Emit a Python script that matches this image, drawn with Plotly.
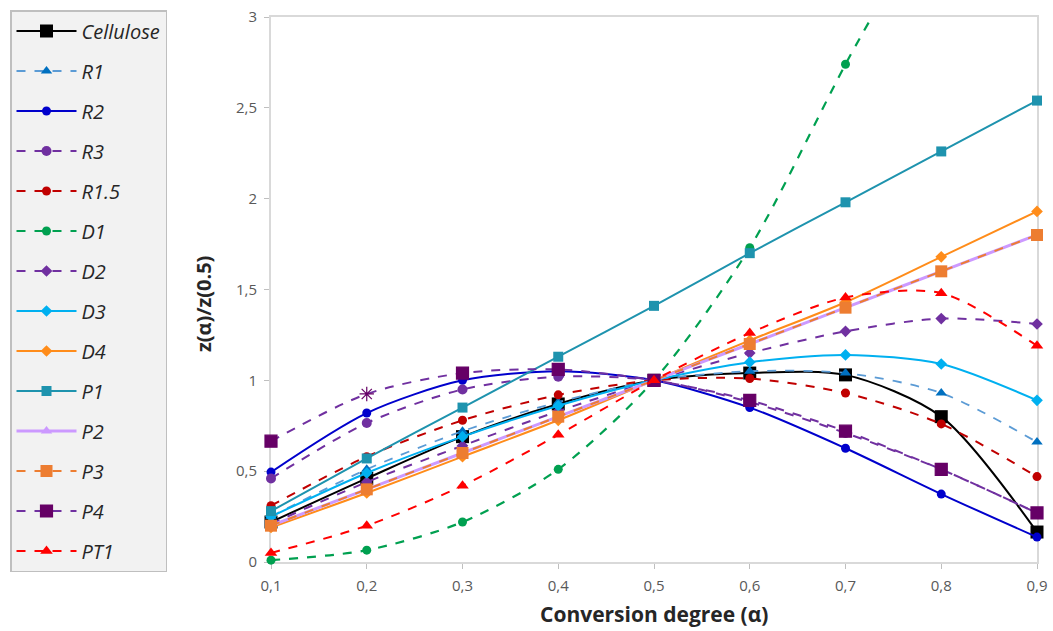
import plotly.graph_objects as go

alpha = [0.1, 0.2, 0.3, 0.4, 0.5, 0.6, 0.7, 0.8, 0.9]

cellulose = [0.22, 0.46, 0.69, 0.87, 1.00, 1.04, 1.03, 0.80, 0.165]
r1 = [0.25, 0.51, 0.72, 0.88, 1.00, 1.05, 1.04, 0.93, 0.66]
r2 = [0.495, 0.82, 1.00, 1.05, 1.00, 0.85, 0.626, 0.374, 0.137]
r3 = [0.46, 0.765, 0.95, 1.02, 1.00, 0.88, 0.71, 0.51, 0.27]
r15 = [0.31, 0.58, 0.78, 0.92, 1.00, 1.01, 0.93, 0.76, 0.47]
d1 = [0.01, 0.065, 0.22, 0.51, 1.00, 1.73, 2.74, 3.7, 5.0]
d2 = [0.21, 0.44, 0.64, 0.83, 1.00, 1.15, 1.27, 1.34, 1.31]
d3 = [0.25, 0.49, 0.69, 0.86, 1.00, 1.10, 1.14, 1.09, 0.89]
d4 = [0.19, 0.38, 0.58, 0.78, 1.00, 1.22, 1.43, 1.68, 1.93]
p1 = [0.28, 0.57, 0.85, 1.13, 1.41, 1.70, 1.98, 2.26, 2.54]
p2 = [0.20, 0.40, 0.60, 0.80, 1.00, 1.20, 1.40, 1.60, 1.80]
p3 = [0.20, 0.40, 0.60, 0.80, 1.00, 1.20, 1.40, 1.60, 1.80]
p4 = [0.665, 0.925, 1.04, 1.06, 1.00, 0.89, 0.72, 0.51, 0.27]
pt1 = [0.05, 0.20, 0.42, 0.70, 1.00, 1.26, 1.456, 1.48, 1.19]

series = [
    ("Cellulose", cellulose, "black", "black", "solid", "square", 13, 2),
    ("R1", r1, "#5B9BD5", "#0070C0", "dash", "triangle-up", 10, 1.8),
    ("R2", r2, "#0000CC", "#0000CC", "solid", "circle", 9, 2),
    ("R3", r3, "#7030A0", "#7030A0", "dash", "circle", 10, 2),
    ("R1.5", r15, "#C00000", "#C00000", "dash", "circle", 9, 2),
    ("D1", d1, "#00A050", "#00A050", "dash", "circle", 9, 2.2),
    ("D2", d2, "#7030A0", "#7030A0", "dash", "diamond", 9, 2),
    ("D3", d3, "#00B0F0", "#00B0F0", "solid", "diamond", 9, 2),
    ("D4", d4, "#FF8C1A", "#FF8C1A", "solid", "diamond", 9, 2),
    ("P1", p1, "#1E93AE", "#1E93AE", "solid", "square", 10, 2),
    ("P2", p2, "#CC99FF", "#CC99FF", "solid", "triangle-up", 10, 3),
    ("P3", p3, "#ED7D31", "#ED7D31", "dash", "square", 12, 2),
    ("P4", p4, "#7030A0", "#660066", "dash", "square", 12, 2),
    ("PT1", pt1, "#FF0000", "#FF0000", "dash", "triangle-up", 11, 2),
]

fig = go.Figure()
for i, (name, vals, lc, mc, dash, sym, ms, lw) in enumerate(series):
    symbols = sym
    mline = dict(width=0)
    if name == "P4":
        symbols = [sym if k != 1 else "asterisk-open" for k in range(len(vals))]
        mline = dict(width=1.2, color=mc)
    fig.add_trace(go.Scatter(
        x=alpha, y=vals, name=name, mode="lines+markers",
        line=dict(color=lc, width=lw, dash=dash, shape="spline", smoothing=0.8),
        marker=dict(color=mc, symbol=symbols, size=ms, line=mline),
        legendgroup=name, cliponaxis=False,
    ))

L, R, T, B = 271, 16, 17, 69
PW = 1053 - L - R
PH = 631 - T - B

fig.add_annotation(
    text="<b>z(α)/z(0.5)</b>", textangle=-90,
    xref="paper", yref="paper", x=(203 - L) / PW, y=(562 - 304) / PH,
    xanchor="center", yanchor="middle", showarrow=False,
    font=dict(family="Open Sans", size=20, color="#262626"),
)
fig.add_annotation(
    text="<b>Conversion degree (α)</b>",
    xref="paper", yref="paper", x=(654 - L) / PW, y=(562 - 614) / PH,
    xanchor="center", yanchor="middle", showarrow=False,
    font=dict(family="Open Sans", size=21, color="#262626"),
)

fig.update_layout(
    width=1053, height=631,
    margin=dict(l=L, r=R, t=T, b=B, autoexpand=False),
    paper_bgcolor="white", plot_bgcolor="white",
    separators=", ",
    font=dict(family="Open Sans", color="#595959"),
    showlegend=True,
    legend=dict(
        xref="container", yref="container",
        x=10 / 1053, y=1 - 10 / 631, xanchor="left", yanchor="top",
        bgcolor="#F2F2F2", bordercolor="#BFBFBF", borderwidth=1.5,
        font=dict(family="Open Sans", size=20, color="#262626", style="italic"),
        itemwidth=60, tracegroupgap=11, maxheight=620,
    ),
    xaxis=dict(
        range=[0.1, 0.9], dtick=0.1, tick0=0.1, automargin=False,
        showgrid=False, zeroline=False, layer="below traces",
        showline=True, linecolor="#D9D9D9", linewidth=2, mirror=True,
        ticks="outside", ticklen=5, tickcolor="#BFBFBF", ticklabelstandoff=4,
        tickfont=dict(size=15, color="#595959"),
    ),
    yaxis=dict(
        range=[0, 3], dtick=0.5, automargin=False,
        showgrid=False, zeroline=False, layer="below traces",
        showline=True, linecolor="#D9D9D9", linewidth=2, mirror=True,
        ticks="outside", ticklen=5, tickcolor="#BFBFBF", ticklabelstandoff=4,
        tickfont=dict(size=15, color="#595959"),
    ),
)

fig.write_html("out.html")
